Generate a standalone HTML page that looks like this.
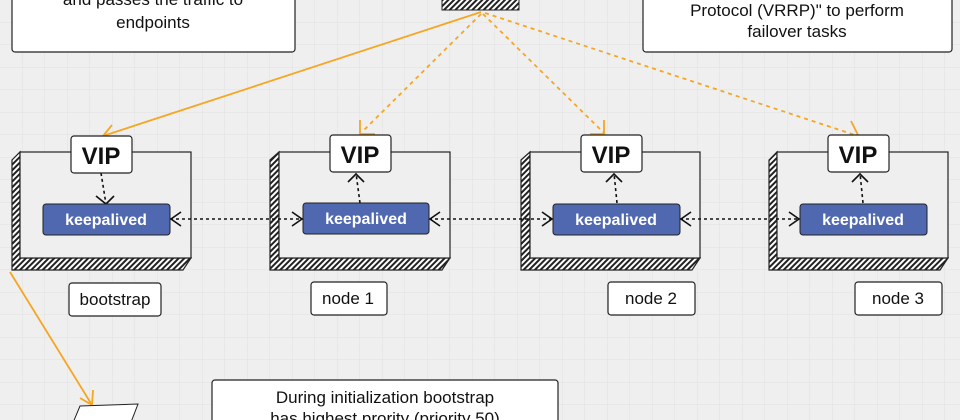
<!DOCTYPE html>
<html><head><meta charset="utf-8"><style>
body{margin:0;width:960px;height:420px;overflow:hidden;background:#efefef;}
svg{display:block}
text{font-family:"Liberation Sans",sans-serif;fill:#111}
text.w{fill:#fff}
</style></head><body>
<svg width="960" height="420" viewBox="0 0 960 420" xmlns="http://www.w3.org/2000/svg">
<defs>
<pattern id="g" width="22.5" height="22.5" patternUnits="userSpaceOnUse"><path d="M22.5 0V22.5H0" fill="none" stroke="#e2e2e2" stroke-width="1"/></pattern>
<pattern id="h" width="4" height="4" patternUnits="userSpaceOnUse" patternTransform="rotate(45)"><rect width="4" height="4" fill="#fff"/><rect width="2" height="4" fill="#222"/></pattern>
</defs>
<rect width="960" height="420" fill="url(#g)"/>
<rect x="12" y="-10" width="283" height="62" rx="3" fill="#fff" stroke="#222" stroke-width="1.2"/>
<text x="153" y="5" font-size="17" text-anchor="middle">and passes the traffic to</text>
<text x="153" y="28" font-size="17" text-anchor="middle">endpoints</text>
<rect x="643" y="-10" width="309" height="62" rx="3" fill="#fff" stroke="#222" stroke-width="1.2"/>
<text x="797" y="16" font-size="17" text-anchor="middle">Protocol (VRRP)" to perform</text>
<text x="797" y="37" font-size="17" text-anchor="middle">failover tasks</text>
<rect x="442" y="-2" width="77" height="12" fill="url(#h)" stroke="#222"/>
<g stroke="#f5a623" stroke-width="1.8" fill="none">
<path d="M481 12 L103 136"/><path d="M112 125 L103 136 L116 141"/>
<path d="M481 14 L362 132" stroke-dasharray="4 4"/><path d="M360 120 V134 H375"/>
<path d="M483 14 L605 134" stroke-dasharray="4 4"/><path d="M604 120 V134 H590"/>
<path d="M485 13 L855 135" stroke-dasharray="4 4"/><path d="M851 121 L858 135 L846 141"/>
<path d="M10 272 L92 405"/><path d="M93 390 L92 405 L80 398"/>
</g>
<g stroke="#222" stroke-width="1.2">
<path d="M12 160 L20 152 V258 H191 L183 270 H12 Z" fill="url(#h)"/><rect x="20" y="152" width="171" height="106" fill="#efefef"/>
<path d="M270 160 L279 152 V258 H450 L442 270 H270 Z" fill="url(#h)"/><rect x="279" y="152" width="171" height="106" fill="#efefef"/>
<path d="M521 160 L530 152 V258 H700 L692 270 H521 Z" fill="url(#h)"/><rect x="530" y="152" width="170" height="106" fill="#efefef"/>
<path d="M769 160 L777 152 V258 H948 L940 270 H769 Z" fill="url(#h)"/><rect x="777" y="152" width="171" height="106" fill="#efefef"/>
</g>
<g stroke="#111" stroke-width="1.6" fill="none">
<g stroke-dasharray="3 3"><path d="M170 219 H303"/><path d="M429 219 H553"/><path d="M680 219 H800"/>
<path d="M101 173 L106 204"/><path d="M360 203 L356 173"/><path d="M617 203 L614 173"/><path d="M863 203 L860 173"/></g>
<path d="M181 212 L171 219 L181 226"/><path d="M292 212 L302 219 L292 226"/>
<path d="M440 212 L430 219 L440 226"/><path d="M542 212 L552 219 L542 226"/>
<path d="M691 212 L681 219 L691 226"/><path d="M789 212 L799 219 L789 226"/>
<path d="M96 196 L106 204 L114 196"/><path d="M348 182 L356 174 L364 182"/>
<path d="M606 182 L614 174 L622 182"/><path d="M852 182 L860 174 L868 182"/>
</g>
<g fill="#fff" stroke="#222" stroke-width="1.2">
<rect x="71" y="136" width="61" height="37" rx="3"/><rect x="330" y="135" width="61" height="37" rx="3"/>
<rect x="581" y="135" width="61" height="37" rx="3"/><rect x="828" y="135" width="61" height="37" rx="3"/>
</g>
<g font-size="24" text-anchor="middle" font-weight="bold">
<text x="101" y="164">VIP</text><text x="360" y="163">VIP</text><text x="611" y="163">VIP</text><text x="858" y="163">VIP</text>
</g>
<g fill="#4f68b0" stroke="#222" stroke-width="1">
<rect x="43" y="204" width="127" height="31" rx="3"/><rect x="303" y="203" width="126" height="31" rx="3"/>
<rect x="553" y="204" width="127" height="31" rx="3"/><rect x="800" y="204" width="127" height="31" rx="3"/>
</g>
<g font-size="16" text-anchor="middle" font-weight="bold">
<text class="w" style="fill:#fff" x="106" y="225">keepalived</text><text class="w" style="fill:#fff" x="366" y="224">keepalived</text>
<text class="w" style="fill:#fff" x="616" y="225">keepalived</text><text class="w" style="fill:#fff" x="863" y="225">keepalived</text>
</g>
<g fill="#fff" stroke="#222" stroke-width="1.2">
<rect x="69" y="283" width="92" height="33" rx="3"/><rect x="311" y="282" width="76" height="33" rx="3"/>
<rect x="608" y="282" width="87" height="33" rx="3"/><rect x="855" y="282" width="87" height="33" rx="3"/>
</g>
<g font-size="17" text-anchor="middle">
<text x="115" y="305">bootstrap</text><text x="348" y="304">node 1</text>
<text x="651" y="304">node 2</text><text x="898" y="304">node 3</text>
</g>
<path d="M80 406 L138 404 L128 430 L70 430 Z" fill="#fff" stroke="#222"/>
<rect x="212" y="380" width="346" height="50" rx="3" fill="#fff" stroke="#222" stroke-width="1.2"/>
<text x="385" y="403" font-size="17" text-anchor="middle">During initialization bootstrap</text>
<text x="385" y="424" font-size="17" text-anchor="middle">has highest prority (priority 50)</text>
</svg>
</body></html>
